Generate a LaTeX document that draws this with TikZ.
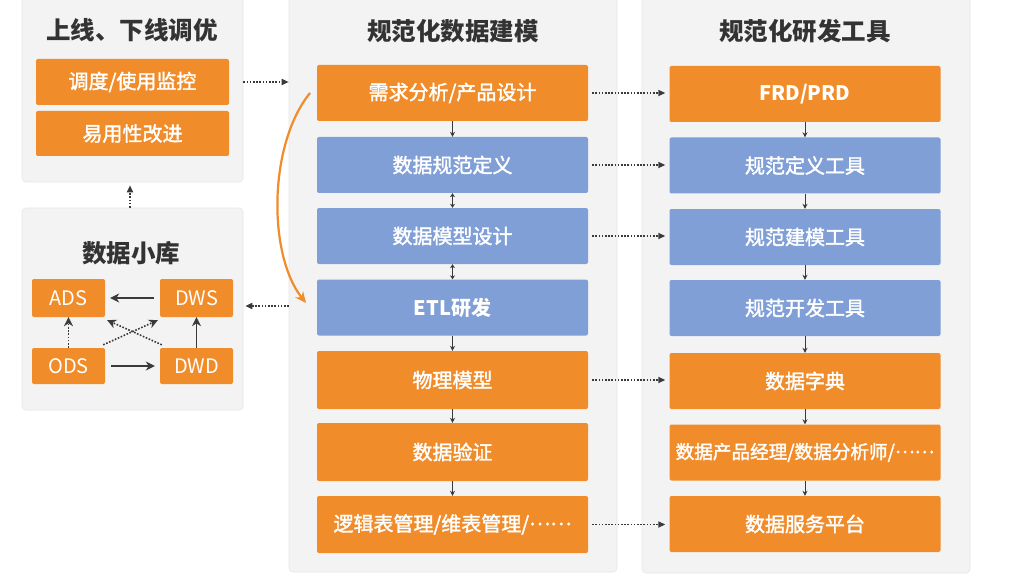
\documentclass[tikz,border=0pt]{standalone}
\usepackage{fontspec}
\setmainfont{Noto Sans CJK SC}
\newfontfamily\boxfont{Noto Sans CJK SC}[FakeBold=1.8]
\usetikzlibrary{arrows.meta,calc}
\definecolor{orng}{HTML}{F08C2A}
\definecolor{blu}{HTML}{7F9FD6}
\definecolor{pnl}{HTML}{F3F3F3}
\definecolor{pnledge}{HTML}{E6E6E6}
\definecolor{ttl}{HTML}{333333}
\definecolor{arr}{HTML}{3A3A3A}
\newcommand{\mdots}{\raisebox{0.3em}{……}}
\tikzset{
  panel/.style={draw=pnledge, fill=pnl, rounded corners=4pt, inner sep=0, line width=0.6pt},
  ttlnode/.style={text=ttl, font=\fontsize{24.5}{24.5}\selectfont\bfseries, inner sep=0},
  obox/.style={fill=orng, rounded corners=2pt, text=white, inner sep=0, font=\fontsize{20}{20}\selectfont\boxfont},
  bbox/.style={fill=blu, rounded corners=2pt, text=white, inner sep=0, font=\fontsize{20}{20}\selectfont\boxfont},
  colbox/.style={minimum width=271pt, minimum height=56pt},
  smallbox/.style={minimum width=73pt, minimum height=38pt, font=\fontsize{20}{20}\selectfont},
  solidarr/.style={draw=arr, line width=0.9pt, -{Stealth[length=5pt,width=5pt]}},
  dblarr/.style={draw=arr, line width=0.9pt, {Stealth[length=4pt,width=5pt]}-{Stealth[length=4pt,width=5pt]}},
  dotarr/.style={draw=arr, line width=1.6pt, dash pattern=on 1.6pt off 1.6pt, -{Triangle[length=7pt,width=6pt]}},
  bigarr/.style={draw=arr, line width=1.2pt, -{Stealth[length=9pt,width=9pt]}},
  bigdot/.style={draw=arr, line width=1.6pt, dash pattern=on 1.6pt off 1.6pt, -{Stealth[length=9pt,width=9pt]}},
}
\begin{document}
\begin{tikzpicture}[x=1pt,y=-1pt]
\useasboundingbox (0,0) rectangle (1022,580);
\fill[white] (0,0) rectangle (1022,580);
% panels
\node[panel, minimum width=221pt, minimum height=187pt] (pLT) at (132.5,88.5) {};
\node[panel, minimum width=221pt, minimum height=202pt] (pLB) at (132.5,309) {};
\node[panel, minimum width=328pt, minimum height=577pt] (pM) at (453,283.5) {};
\node[panel, minimum width=328pt, minimum height=578pt] (pR) at (806,284) {};
% titles
\node[ttlnode] (t1) at (132,30) {上线、下线调优};
\node[ttlnode] (t2) at (131,253) {数据小库};
\node[ttlnode] (t3) at (453,31) {规范化数据建模};
\node[ttlnode] (t4) at (805,31) {规范化研发工具};
% left top boxes
\node[obox, minimum width=193pt, minimum height=46pt] (lt1) at (132.5,82) {调度/使用监控};
\node[obox, minimum width=193pt, minimum height=45pt] (lt2) at (132.5,133.5) {易用性改进};
% left bottom boxes
\node[obox, smallbox] (ads) at (68.5,298) {ADS};
\node[obox, smallbox] (dws) at (196.5,298) {DWS};
\node[obox, smallbox, minimum height=36pt] (ods) at (68.5,366) {ODS};
\node[obox, smallbox, minimum height=36pt] (dwd) at (196.5,366) {DWD};
% middle column
\node[obox, colbox] (m1) at (452.5,93) {需求分析/产品设计};
\node[bbox, colbox] (m2) at (452.5,165) {数据规范定义};
\node[bbox, colbox] (m3) at (452.5,236) {数据模型设计};
\node[bbox, colbox, font=\fontsize{20}{20}\selectfont\bfseries] (m4) at (452.5,307.5) {ETL研发};
\node[obox, colbox, minimum height=58pt] (m5) at (452.5,380) {物理模型};
\node[obox, colbox, minimum height=58pt] (m6) at (452.5,452) {数据验证};
\node[obox, colbox, minimum height=57pt] (m7) at (452.5,524.5) {逻辑表管理/维表管理/\mdots};
% right column
\node[obox, colbox, font=\fontsize{20}{20}\selectfont\bfseries] (r1) at (805,94) {FRD/PRD};
\node[bbox, colbox] (r2) at (805,165.5) {规范定义工具};
\node[bbox, colbox] (r3) at (805,237) {规范建模工具};
\node[bbox, colbox] (r4) at (805,308) {规范开发工具};
\node[obox, colbox] (r5) at (805,381) {数据字典};
\node[obox, colbox, font=\fontsize{18.6}{18.6}\selectfont\boxfont] (r6) at (805,452.5) {数据产品经理/数据分析师/\mdots};
\node[obox, colbox] (r7) at (805,524) {数据服务平台};
% middle arrows
\draw[solidarr] (m1.south) -- (m2.north);
\draw[dblarr] (m2.south) -- (m3.north);
\draw[dblarr] (m3.south) -- (m4.north);
\draw[solidarr] (m4.south) -- (m5.north);
\draw[solidarr] (m5.south) -- (m6.north);
\draw[solidarr] (m6.south) -- (m7.north);
% right arrows
\draw[solidarr] (r1.south) -- (r2.north);
\draw[solidarr] (r2.south) -- (r3.north);
\draw[solidarr] (r3.south) -- (r4.north);
\draw[solidarr] (r4.south) -- (r5.north);
\draw[solidarr] (r5.south) -- (r6.north);
\draw[solidarr] (r6.south) -- (r7.north);
% middle -> right dotted
\foreach \a/\b in {m1/r1,m2/r2,m3/r3,m5/r5,m7/r7}{
  \draw[dotarr] ($(\a.east)+(4,0)$) -- ($(\b.west |- \a.east)+(-4,0)$);
}
% left panel links
\draw[dotarr] (pLT.east |- lt1.east) -- (pM.west |- lt1.east);
\coordinate (etly) at (0,306);
\draw[dotarr] (pM.west |- etly) -- ($(pLB.east |- etly)+(2,0)$);
\coordinate (upx) at (130,0);
\draw[dotarr] (pLB.north -| upx) -- ($(pLT.south -| upx)+(0,3)$);
% small warehouse arrows
\draw[bigarr] (dws.west) ++(-6,0) -- ($(ads.east)+(5,0)$);
\draw[bigarr] (ods.east) ++(6,0) -- ($(dwd.west)+(-5,0)$);
\draw[bigarr] (dwd.north) -- (dws.south);
\draw[bigdot] (ods.north) -- (ads.south);
\draw[bigdot] ($(ods.north east)+(-2,-3)$) -- ($(dws.south west)+(-2,3)$);
\draw[bigdot] ($(dwd.north west)+(2,-3)$) -- ($(ads.south east)+(2,3)$);
% orange curved arrow
\coordinate (cs) at (310,93);
\coordinate (ce) at (306,303);
\draw[orng, line width=2.2pt, -{Stealth[length=11pt,width=10pt]}] (cs) .. controls (268,145) and (268,255) .. (ce);
\end{tikzpicture}
\end{document}
